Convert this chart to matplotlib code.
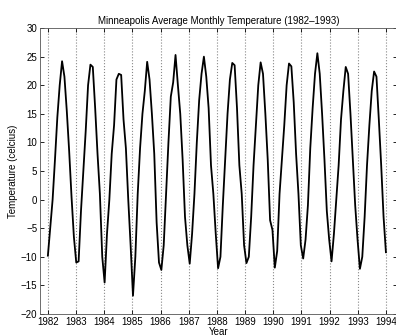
import numpy as np
import matplotlib
matplotlib.use("Agg")
import matplotlib.pyplot as plt

plt.rcParams['font.family'] = ['Liberation Sans', 'DejaVu Sans']

# monthly mean temperature (deg C), Jan..Dec
t1982 = [-9.8, -4.8, 0.0, 7.0, 14.4, 20.0, 24.2, 21.5, 15.5, 8.5, 0.5, -6.5]
t1983 = [-11.0, -10.8, -2.0, 5.0, 12.0, 20.0, 23.6, 23.2, 16.0, 8.0, 1.0, -10.0]
t1984 = [-14.5, -6.0, 0.0, 8.0, 13.0, 21.0, 22.0, 21.8, 14.0, 9.0, 0.0, -8.0]
t1985 = [-16.8, -10.0, 1.0, 9.0, 15.0, 19.0, 24.1, 21.0, 15.0, 8.0, -4.0, -11.0]
t1986 = [-12.3, -8.0, 1.0, 10.0, 18.0, 20.5, 25.3, 20.0, 15.0, 7.0, -3.0, -8.0]
t1987 = [-11.2, -6.0, 1.0, 10.0, 17.4, 22.0, 25.0, 21.5, 16.0, 6.0, 1.0, -5.9]
t1988 = [-12.0, -10.0, -1.0, 7.0, 15.0, 21.0, 23.9, 23.5, 16.0, 6.0, 1.0, -8.0]
t1989 = [-11.1, -10.0, -3.0, 6.0, 13.0, 20.0, 24.0, 22.0, 15.0, 7.0, -3.6, -5.3]
t1990 = [-11.9, -9.0, 1.0, 7.0, 13.0, 20.0, 23.8, 23.3, 17.0, 8.0, 1.0, -8.0]
t1991 = [-10.3, -7.0, -1.0, 9.0, 16.0, 22.0, 25.6, 22.0, 15.0, 7.0, -2.0, -7.0]
t1992 = [-10.8, -6.0, 0.0, 6.0, 14.0, 19.0, 23.2, 22.0, 15.0, 7.0, -1.0, -7.0]
t1993 = [-12.1, -10.0, -3.0, 6.0, 13.0, 19.0, 22.4, 21.5, 14.0, 6.0, -3.0, -9.2]

temps = np.concatenate([t1982, t1983, t1984, t1985, t1986, t1987,
                        t1988, t1989, t1990, t1991, t1992, t1993])
years = np.linspace(1982, 1994, len(temps))
year_ticks = list(range(1982, 1995))

fig = plt.figure(figsize=(3.96, 3.36), dpi=100)
ax = fig.add_axes([0.101, 0.0655, 0.902, 0.851])

ax.plot(years, temps, color='black', linewidth=1.3)

ax.set_xlim(1981.72, 1994.4)
ax.set_ylim(-20, 30)
ax.set_xticks(year_ticks)
ax.set_yticks(range(-20, 31, 5))
ax.xaxis.grid(True, linestyle=':', color='#888888', linewidth=0.8)

ax.tick_params(direction='in', length=3, width=0.6, labelsize=7,
               top=True, right=True, pad=2)
for s in ax.spines.values():
    s.set_linewidth(0.6)
    s.set_color('#555555')

ax.set_title('Minneapolis Average Monthly Temperature (1982\u20131993)',
             fontsize=7, pad=3)
ax.set_xlabel('Year', fontsize=7, labelpad=0)
ax.set_ylabel('Temperature (celcius)', fontsize=7, labelpad=2)

fig.savefig('out.png', dpi=100)
